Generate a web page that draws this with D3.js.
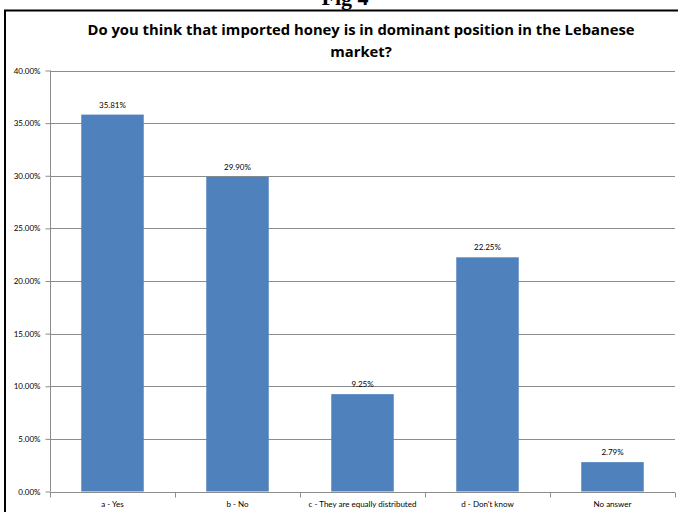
<!DOCTYPE html>
<html>
<head>
<meta charset="utf-8">
<script src="https://cdn.jsdelivr.net/npm/d3@7"></script>
<style>
  html, body { margin: 0; padding: 0; background: #fff; }
  svg { display: block; }
</style>
</head>
<body>
<svg id="chart" width="678" height="512"></svg>
<script>
// Survey answers and their shares (%)
const categories = ["a - Yes", "b - No", "c - They are equally distributed", "d - Don't know", "No answer"];
const values = [35.81, 29.90, 9.25, 22.25, 2.79];
const yTicks = [0, 5, 10, 15, 20, 25, 30, 35, 40];
const titleLines = ["Do you think that imported honey is in dominant position in the Lebanese", "market?"];

const svg = d3.select("#chart");
const W = 678, H = 512;
const margin = { left: 50, right: 3, top: 70.5, bottom: 20.5 };

const labelFont = "Lato, 'Open Sans', sans-serif";

// Caption above the framed chart (mostly cut off by the page edge)
svg.append("text")
  .attr("x", 345).attr("y", 5)
  .attr("text-anchor", "middle")
  .attr("font-family", "'Liberation Serif', 'DejaVu Serif', serif")
  .attr("font-weight", "bold")
  .attr("font-size", 22)
  .attr("fill", "#000")
  .text("Fig 4");

// Frame around the chart
svg.append("line").attr("x1", 4).attr("x2", W).attr("y1", 10.5).attr("y2", 10.5)
  .attr("stroke", "#000").attr("stroke-width", 2);
svg.append("line").attr("x1", 5).attr("x2", 5).attr("y1", 10).attr("y2", H)
  .attr("stroke", "#000").attr("stroke-width", 2);

// Title
svg.append("g").selectAll("text").data(titleLines).join("text")
  .attr("x", 361).attr("y", (d, i) => 35 + i * 22)
  .attr("text-anchor", "middle")
  .attr("font-family", "'Open Sans', sans-serif")
  .attr("font-weight", "bold")
  .attr("font-size", 14.8)
  .attr("fill", "#000")
  .text(d => d);

const x = d3.scaleBand()
  .domain(categories)
  .range([margin.left, W - margin.right])
  .paddingInner(0.5).paddingOuter(0.25);

const y = d3.scaleLinear()
  .domain([0, 40])
  .range([H - margin.bottom, margin.top]);

// Horizontal gridlines
svg.append("g").selectAll("line").data(yTicks.filter(d => d > 0)).join("line")
  .attr("x1", margin.left).attr("x2", W - margin.right)
  .attr("y1", d => Math.round(y(d)) + 0.5).attr("y2", d => Math.round(y(d)) + 0.5)
  .attr("stroke", "#8c8c8c").attr("stroke-width", 1);

// Bars
svg.append("g").selectAll("rect").data(values).join("rect")
  .attr("x", (d, i) => x(categories[i]))
  .attr("width", x.bandwidth())
  .attr("y", d => y(d))
  .attr("height", d => y(0) - y(d))
  .attr("fill", "#4f81bd");

// Value labels
svg.append("g").selectAll("text").data(values).join("text")
  .attr("x", (d, i) => x(categories[i]) + x.bandwidth() / 2)
  .attr("y", d => y(d) - 7)
  .attr("text-anchor", "middle")
  .attr("font-family", labelFont)
  .attr("font-size", 8)
  .attr("fill", "#000")
  .text(d => d.toFixed(2) + "%");

// Y axis
const yAxis = svg.append("g")
  .attr("transform", `translate(${margin.left + 0.5},0)`)
  .call(d3.axisLeft(y).tickValues(yTicks).tickSize(5).tickPadding(5)
    .tickFormat(d => d.toFixed(2) + "%"));
yAxis.select(".domain").attr("stroke", "#8c8c8c").attr("d", `M0,${margin.top}V${H - margin.bottom}`);
yAxis.selectAll(".tick line").attr("stroke", "#8c8c8c");
yAxis.selectAll(".tick text").attr("font-family", labelFont).attr("font-size", 8).attr("fill", "#000");

// X axis with ticks at the category boundaries
const xAxisY = Math.round(y(0)) + 0.5;
const step = x.step();
const xg = svg.append("g");
xg.append("line").attr("x1", margin.left).attr("x2", W - margin.right)
  .attr("y1", xAxisY).attr("y2", xAxisY).attr("stroke", "#8c8c8c");
xg.selectAll("line.tk").data(d3.range(categories.length + 1)).join("line")
  .attr("class", "tk")
  .attr("x1", i => Math.round(margin.left + i * step) + 0.5)
  .attr("x2", i => Math.round(margin.left + i * step) + 0.5)
  .attr("y1", xAxisY).attr("y2", xAxisY + 5)
  .attr("stroke", "#8c8c8c");
xg.selectAll("text").data(categories).join("text")
  .attr("x", d => x(d) + x.bandwidth() / 2)
  .attr("y", 507)
  .attr("text-anchor", "middle")
  .attr("font-family", labelFont)
  .attr("font-size", 8)
  .attr("fill", "#000")
  .text(d => d);
</script>
</body>
</html>
